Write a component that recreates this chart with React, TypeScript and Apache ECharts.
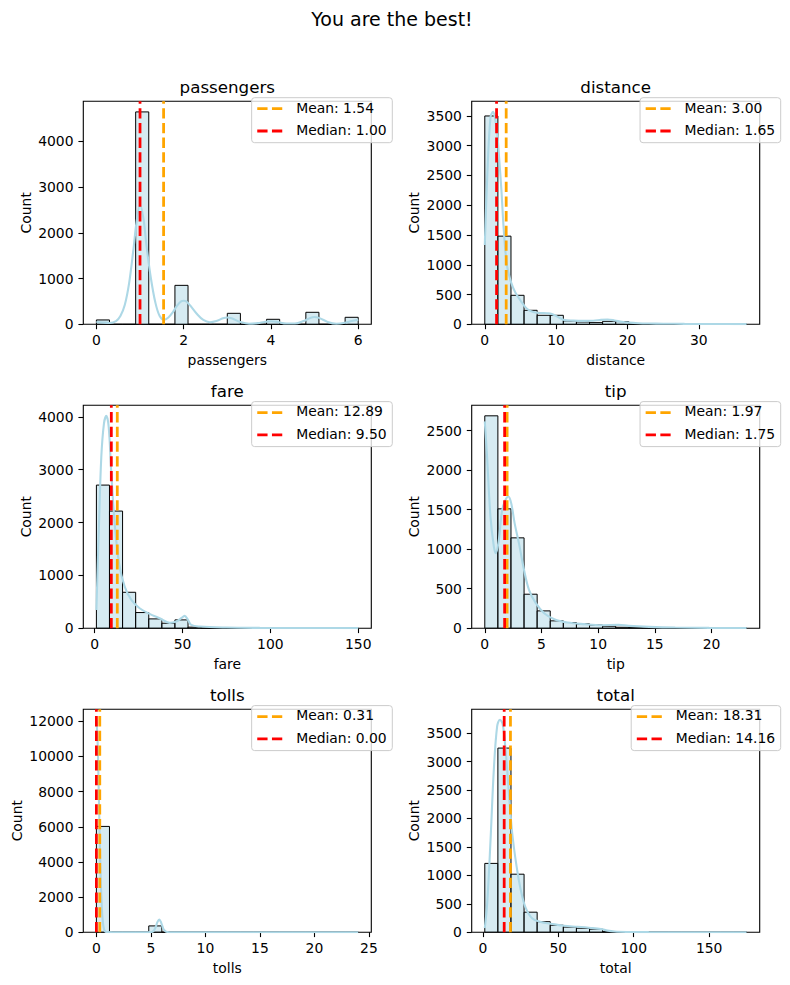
import { useEffect, useRef } from "react";
import * as echarts from "echarts";

const FONT = '"DejaVu Sans", Verdana, sans-serif';

// ---- passengers ----
const passengersRange = [0, 6];
const passengersCounts = [95, 0, 0, 4640, 0, 0, 851, 0, 0, 0, 240, 0, 0, 109, 0, 0, 262, 0, 0, 153];
const passengersKdeX = [0, 0.15, 0.3, 0.45, 0.55, 0.65, 0.75, 0.85, 0.92, 1.0, 1.08, 1.15, 1.25, 1.35, 1.45, 1.55, 1.65, 1.75, 1.85, 1.95, 2.0, 2.05, 2.15, 2.3, 2.45, 2.6, 2.75, 2.9, 3.0, 3.1, 3.3, 3.5, 3.7, 3.85, 4.0, 4.15, 4.35, 4.55, 4.75, 4.9, 5.0, 5.1, 5.3, 5.5, 5.7, 5.85, 6.0];
const passengersKdeY = [50, 40, 30, 70, 180, 420, 900, 1650, 2230, 2605, 2300, 1700, 1000, 480, 180, 100, 150, 260, 410, 505, 515, 505, 410, 230, 95, 45, 70, 130, 148, 130, 50, 12, 25, 52, 66, 52, 17, 16, 72, 140, 160, 140, 52, 12, 32, 70, 100];
const passengersXTicks = [0, 2, 4, 6];
const passengersYTicks = [0, 1000, 2000, 3000, 4000];
const passengersStats = [1.54, 1.0];

// ---- distance ----
const distanceRange = [0, 36.7];
const distanceCounts = [3500, 1481, 487, 235, 151, 151, 56, 39, 28, 50, 45, 8, 4, 3, 2, 1, 1, 1, 0, 1];
const distanceKdeX = [0, 0.35, 0.8, 1.17, 1.5, 1.75, 2.0, 2.33, 2.66, 3.1, 3.7, 4.3, 5.0, 5.9, 6.8, 7.8, 8.7, 9.4, 10.3, 11.2, 12.4, 13.8, 15.2, 16.3, 17.2, 18.2, 19.2, 20.2, 21.5, 23, 25, 28, 31, 34, 36.7];
const distanceKdeY = [1331, 2500, 3480, 3568, 3420, 3200, 2814, 2254, 1582, 1000, 700, 530, 400, 260, 205, 190, 185, 175, 120, 70, 62, 58, 60, 75, 80, 65, 42, 28, 18, 13, 10, 7, 5, 4, 3];
const distanceXTicks = [0, 10, 20, 30];
const distanceYTicks = [0, 500, 1000, 1500, 2000, 2500, 3000, 3500];
const distanceStats = [3.0, 1.65];

// ---- fare ----
const fareRange = [1, 150];
const fareCounts = [2709, 2217, 680, 296, 176, 94, 157, 20, 5, 3, 2, 1, 1, 0, 0, 0, 0, 0, 0, 2];
const fareKdeX = [1, 2.5, 3.8, 5.3, 6.66, 8.0, 9.5, 11.4, 13.9, 17.1, 20.9, 25.6, 31.3, 37.0, 42.7, 46.5, 49.3, 51.2, 53.1, 55.0, 59.8, 75, 94, 120, 150];
const fareKdeY = [346, 1984, 3244, 3874, 4020, 3811, 2929, 1984, 1228, 787, 535, 378, 271, 189, 100, 126, 189, 233, 158, 63, 32, 13, 6, 3, 2];
const fareXTicks = [0, 50, 100, 150];
const fareYTicks = [0, 1000, 2000, 3000, 4000];
const fareStats = [12.89, 9.5];

// ---- tip ----
const tipRange = [0, 23.1];
const tipCounts = [2687, 1510, 1143, 430, 219, 93, 72, 55, 40, 25, 12, 8, 5, 3, 2, 1, 1, 0, 0, 1];
const tipKdeX = [0, 0.2, 0.5, 0.8, 0.97, 1.24, 1.53, 1.83, 2.07, 2.33, 2.63, 3.01, 3.46, 3.9, 4.5, 5.24, 6.13, 7.3, 8.8, 10.3, 11.8, 12.7, 14.5, 16.8, 19.8, 23.1];
const tipKdeY = [2616, 2172, 1412, 1033, 949, 1118, 1497, 1624, 1666, 1582, 1329, 1076, 739, 485, 317, 190, 114, 72, 51, 38, 42, 30, 17, 8, 4, 3];
const tipXTicks = [0, 5, 10, 15, 20];
const tipYTicks = [0, 500, 1000, 1500, 2000, 2500];
const tipStats = [1.97, 1.75];

// ---- tolls ----
const tollsRange = [0, 24.02];
const tollsCounts = [6020, 0, 0, 0, 358, 0, 0, 0, 0, 0, 0, 0, 0, 0, 0, 0, 0, 0, 0, 1];
const tollsKdeX = [0, 0.1, 0.2, 0.3, 0.4, 0.5, 0.6, 0.7, 0.8, 1.0, 2, 3, 4, 4.8, 5.0, 5.2, 5.4, 5.5, 5.6, 5.76, 5.9, 6.0, 6.1, 6.2, 6.4, 6.7, 8, 12, 16, 20, 24.02];
const tollsKdeY = [12086, 11080, 8510, 5480, 3020, 1380, 530, 170, 46, 2, 0, 0, 0, 2, 10, 47, 234, 400, 577, 720, 607, 437, 263, 135, 20, 1, 0, 0, 0, 0, 0];
const tollsXTicks = [0, 5, 10, 15, 20, 25];
const tollsYTicks = [0, 2000, 4000, 6000, 8000, 10000, 12000];
const tollsStats = [0.31, 0.0];

// ---- total ----
const totalRange = [1.3, 174.82];
const totalCounts = [1210, 3238, 1020, 352, 185, 123, 90, 70, 53, 10, 4, 2, 1, 1, 0, 0, 0, 0, 0, 1];
const totalKdeX = [1.3, 2.9, 5.1, 7.3, 9.5, 11.3, 13.1, 15.1, 17.3, 19.5, 22.4, 25.1, 28.4, 32.8, 38.4, 45, 53.9, 62.8, 71.6, 78.3, 82.7, 87.2, 96, 110, 130, 150, 174.82];
const totalKdeY = [70, 509, 1614, 2864, 3624, 3735, 3666, 3198, 2438, 1736, 1152, 748, 426, 240, 180, 150, 112, 95, 75, 55, 28, 12, 4, 1, 0, 0, 0];
const totalXTicks = [0, 50, 100, 150];
const totalYTicks = [0, 500, 1000, 1500, 2000, 2500, 3000, 3500];
const totalStats = [18.31, 14.16];

const SUPTITLE = "You are the best!";

const panels = [
  { title: "passengers", range: passengersRange, counts: passengersCounts, kdeX: passengersKdeX, kdeY: passengersKdeY, xTicks: passengersXTicks, yTicks: passengersYTicks, stats: passengersStats },
  { title: "distance", range: distanceRange, counts: distanceCounts, kdeX: distanceKdeX, kdeY: distanceKdeY, xTicks: distanceXTicks, yTicks: distanceYTicks, stats: distanceStats },
  { title: "fare", range: fareRange, counts: fareCounts, kdeX: fareKdeX, kdeY: fareKdeY, xTicks: fareXTicks, yTicks: fareYTicks, stats: fareStats },
  { title: "tip", range: tipRange, counts: tipCounts, kdeX: tipKdeX, kdeY: tipKdeY, xTicks: tipXTicks, yTicks: tipYTicks, stats: tipStats },
  { title: "tolls", range: tollsRange, counts: tollsCounts, kdeX: tollsKdeX, kdeY: tollsKdeY, xTicks: tollsXTicks, yTicks: tollsYTicks, stats: tollsStats },
  { title: "total", range: totalRange, counts: totalCounts, kdeX: totalKdeX, kdeY: totalKdeY, xTicks: totalXTicks, yTicks: totalYTicks, stats: totalStats },
];

// layout (px)
const COL_LEFT = [83.3, 471.7];
const ROW_TOP = [101.3, 405.2, 709.2];
const GRID_W = 288;
const GRID_H = 223;
const FS = 13.9;
const TITLE_FS = 16.7;

const BAR_FILL = "rgba(173,216,230,0.5)";
const KDE_COLOR = "#add8e6";
const MEAN_COLOR = "#ffa500";
const MEDIAN_COLOR = "#ff0000";
const DASH = [10.3, 4.4];

export default function App() {
  const ref = useRef<HTMLDivElement>(null);

  useEffect(() => {
    if (!ref.current) return;
    const chart = echarts.init(ref.current, undefined, { renderer: "svg" });

    const ctx = document.createElement("canvas").getContext("2d")!;
    const measure = (t: string, size: number) => {
      ctx.font = `${size}px "DejaVu Sans"`;
      return ctx.measureText(t).width;
    };

    const grid: any[] = [];
    const xAxis: any[] = [];
    const yAxis: any[] = [];
    const series: any[] = [];
    const graphic: any[] = [];

    const textStyle = { color: "#000", fontSize: FS, fontFamily: FONT };

    panels.forEach((p, i) => {
      const col = i % 2;
      const row = Math.floor(i / 2);
      const left = COL_LEFT[col];
      const top = ROW_TOP[row];
      const [lo, hi] = p.range;
      const pad = (hi - lo) * 0.05;
      const n = p.counts.length;
      const binW = (hi - lo) / n;
      const yMax = 1.05 * Math.max(...p.counts, ...p.kdeY);
      const [mean, median] = p.stats;

      const yLabelW = Math.max(...p.yTicks.map((v) => measure(String(v), FS)));

      grid.push({
        left, top, width: GRID_W, height: GRID_H,
        show: true, borderColor: "#000", borderWidth: 1.1, backgroundColor: "transparent",
      });

      xAxis.push({
        type: "value", gridIndex: i, min: lo - pad, max: hi + pad,
        name: p.title, nameLocation: "middle", nameGap: 28.3, nameTextStyle: textStyle,
        axisLine: { show: false, onZero: false },
        axisTick: { show: true, length: 4.9, customValues: p.xTicks, lineStyle: { color: "#000", width: 1.1 } },
        axisLabel: { customValues: p.xTicks, margin: 8.6, ...textStyle, formatter: (v: number) => String(v) },
        splitLine: { show: false },
      });

      yAxis.push({
        type: "value", gridIndex: i, min: 0, max: yMax,
        name: "Count", nameLocation: "middle", nameGap: 9.8 + yLabelW + 5.6, nameTextStyle: textStyle,
        axisLine: { show: false, onZero: false },
        axisTick: { show: true, length: 4.9, customValues: p.yTicks, lineStyle: { color: "#000", width: 1.1 } },
        axisLabel: { customValues: p.yTicks, margin: 9.8, ...textStyle, formatter: (v: number) => String(v) },
        splitLine: { show: false },
      });

      // histogram bars
      series.push({
        type: "custom", xAxisIndex: i, yAxisIndex: i, z: 1, silent: true,
        data: p.counts.map((c, k) => [lo + k * binW, lo + (k + 1) * binW, c]),
        encode: { x: [0, 1], y: 2 },
        renderItem: (_params: any, api: any) => {
          const a = api.coord([api.value(0), api.value(2)]);
          const b = api.coord([api.value(1), 0]);
          return {
            type: "rect",
            shape: { x: a[0], y: a[1], width: b[0] - a[0], height: b[1] - a[1] },
            style: { fill: BAR_FILL, stroke: "#000", lineWidth: 1 },
          };
        },
      });

      // density curve
      series.push({
        type: "line", xAxisIndex: i, yAxisIndex: i, z: 2, silent: true,
        data: p.kdeX.map((x, k) => [x, p.kdeY[k]]),
        smooth: 0.35, symbol: "none",
        lineStyle: { color: KDE_COLOR, width: 2.1 },
      });

      // mean and median markers
      series.push({
        type: "line", xAxisIndex: i, yAxisIndex: i, z: 3, silent: true,
        data: [[mean, 0], [mean, yMax]], symbol: "none",
        lineStyle: { color: MEAN_COLOR, width: 2.78, type: DASH },
      });
      series.push({
        type: "line", xAxisIndex: i, yAxisIndex: i, z: 4, silent: true,
        data: [[median, 0], [median, yMax]], symbol: "none",
        lineStyle: { color: MEDIAN_COLOR, width: 2.78, type: DASH },
      });

      // subplot title
      graphic.push({
        type: "text", x: left + GRID_W / 2, y: top - 14.1, z: 50,
        style: { text: p.title, fill: "#000", font: `${TITLE_FS}px ${FONT}`, align: "center", verticalAlign: "middle" },
      });

      // legend box
      const meanLabel = `Mean: ${mean.toFixed(2)}`;
      const medianLabel = `Median: ${median.toFixed(2)}`;
      const textW = Math.max(measure(meanLabel, FS), measure(medianLabel, FS));
      const boxW = 50.1 + textW;
      const boxRight = left + GRID_W + 21;
      const boxLeft = boxRight - boxW;
      const boxTop = top - 3.6;
      const rows = [boxTop + 11, boxTop + 33.3];
      graphic.push({
        type: "rect", z: 100,
        shape: { x: boxLeft, y: boxTop, width: boxW, height: 45, r: 3 },
        style: { fill: "rgba(255,255,255,0.8)", stroke: "#cccccc", lineWidth: 1 },
      });
      [[meanLabel, MEAN_COLOR], [medianLabel, MEDIAN_COLOR]].forEach(([label, color], r) => {
        graphic.push({
          type: "line", z: 101,
          shape: { x1: boxLeft + 5.6, y1: rows[r], x2: boxLeft + 33.4, y2: rows[r] },
          style: { stroke: color, lineWidth: 2.78, lineDash: DASH },
        });
        graphic.push({
          type: "text", z: 101, x: boxLeft + 44.5, y: rows[r] - 1.2,
          style: { text: label, fill: "#000", font: `${FS}px ${FONT}`, align: "left", verticalAlign: "middle" },
        });
      });
    });

    graphic.push({
      type: "text", x: 392, y: 19, z: 50,
      style: { text: SUPTITLE, fill: "#000", font: `19px ${FONT}`, align: "center", verticalAlign: "middle" },
    });

    chart.setOption({
      animation: false,
      backgroundColor: "#fff",
      grid, xAxis, yAxis, series, graphic,
    });

    return () => chart.dispose();
  }, []);

  return (
    <div
      ref={ref}
      style={{ position: "absolute", left: 0, top: 0, width: 790, height: 985, background: "#fff" }}
    />
  );
}
